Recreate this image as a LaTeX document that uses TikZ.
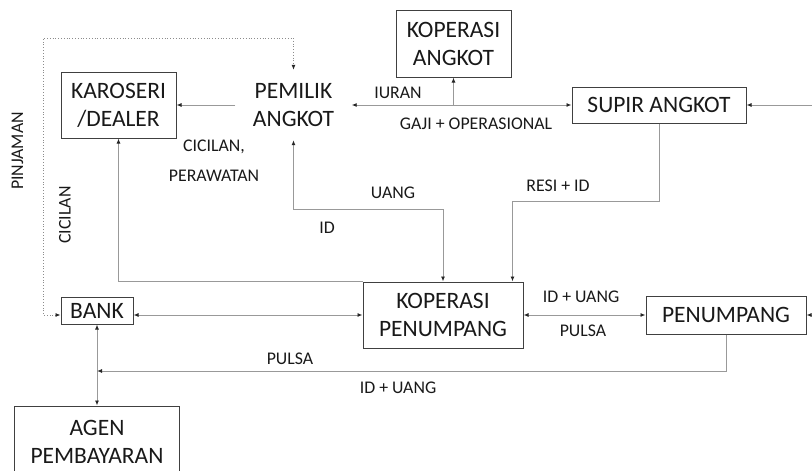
\documentclass[tikz,border=0pt]{standalone}
\usepackage{fontspec}
\setmainfont{Carlito}
\usetikzlibrary{arrows.meta}

\begin{document}
\begin{tikzpicture}[x=1pt,y=-1pt,
  >={Latex[length=5pt,width=4pt,color=black!85]},
  txt/.style={inner sep=0pt,align=center,text=black!90,font=\fontsize{23.5}{28}\selectfont},
  box/.style={txt,draw=black!75,line width=1pt},
  lbl/.style={inner sep=0pt,align=center,text=black!90,font=\fontsize{17.8}{30}\selectfont},
  every edge/.style={draw=black!40,line width=0.9pt},
  ln/.style={draw=black!40,line width=0.9pt},
  dots/.style={draw=black!45,line width=0.8pt,dotted}]
\useasboundingbox (0,0) rectangle (812,471);
\clip (0,0) rectangle (812,471);
\node[box,minimum width=115pt,minimum height=67pt] (kangkot) at (453.5,43.5) {KOPERASI\\ANGKOT};
\node[box,minimum width=174pt,minimum height=36pt] (supir) at (659,105) {SUPIR ANGKOT};
\node[txt,minimum width=116pt,minimum height=70pt] (pemilik) at (293.5,105) {PEMILIK\\ANGKOT};
\node[box,minimum width=115pt,minimum height=66pt] (karoseri) at (118.5,105) {KAROSERI\\/DEALER};
\node[box,minimum width=160pt,minimum height=66pt] (kpenumpang) at (443,315) {KOPERASI\\PENUMPANG};
\node[box,minimum width=72pt,minimum height=27pt] (bank) at (97,310.5) {BANK};
\node[box,minimum width=160pt,minimum height=38pt] (penumpang) at (726,315) {PENUMPANG};
\node[box,minimum width=165pt,minimum height=72pt] (agen) at (97,442) {AGEN\\PEMBAYARAN};
\coordinate (inS) at (812,105);
\coordinate (inP) at (812,315);
\coordinate (pj) at (43,38);
\coordinate (pa) at (97,371);
\path (pemilik) edge[->] (karoseri);
\path (pemilik) edge[<->] (supir);
\path (inS) edge[->] (supir);
\draw[ln,->] (kangkot.south |- supir.west) -- (kangkot.south);
\draw[dots,<->] (bank.west |- kpenumpang.west) -| (pj) -| (pemilik.north);
\draw[ln,->] (kpenumpang.north west) -| (karoseri.south);
\draw[ln,<->] (pemilik.south) |- ([yshift=72pt]kpenumpang.north) -- (kpenumpang.north);
\draw[ln,->] (supir.south) |- ([xshift=-11pt,yshift=80pt]kpenumpang.north east) -- ([xshift=-11pt]kpenumpang.north east);
\draw[ln,<->] (bank.east |- kpenumpang.west) -- (kpenumpang.west);
\path (kpenumpang) edge[<->] (penumpang);
\path (inP) edge[->] (penumpang);
\path (bank) edge[<->] (agen);
\draw[ln,->] (penumpang.south) |- (pa);
\node[lbl] (iuran) at (398,93) {IURAN};
\node[lbl] (gaji) at (476,124) {GAJI + OPERASIONAL};
\node[lbl] (cicilan1) at (214,161) {CICILAN,\\PERAWATAN};
\node[lbl,rotate=90] (pinjaman) at (17.5,151) {PINJAMAN};
\node[lbl,rotate=90] (cicilan2) at (65,215) {CICILAN};
\node[lbl] (uang) at (393,192.5) {UANG};
\node[lbl] (id) at (327,228) {ID};
\node[lbl] (resi) at (558,186) {RESI + ID};
\node[lbl] (iduang1) at (581,296.5) {ID + UANG};
\node[lbl] (pulsa1) at (583,331) {PULSA};
\node[lbl] (pulsa2) at (290,359) {PULSA};
\node[lbl] (iduang2) at (398,387.5) {ID + UANG};
\end{tikzpicture}
\end{document}
